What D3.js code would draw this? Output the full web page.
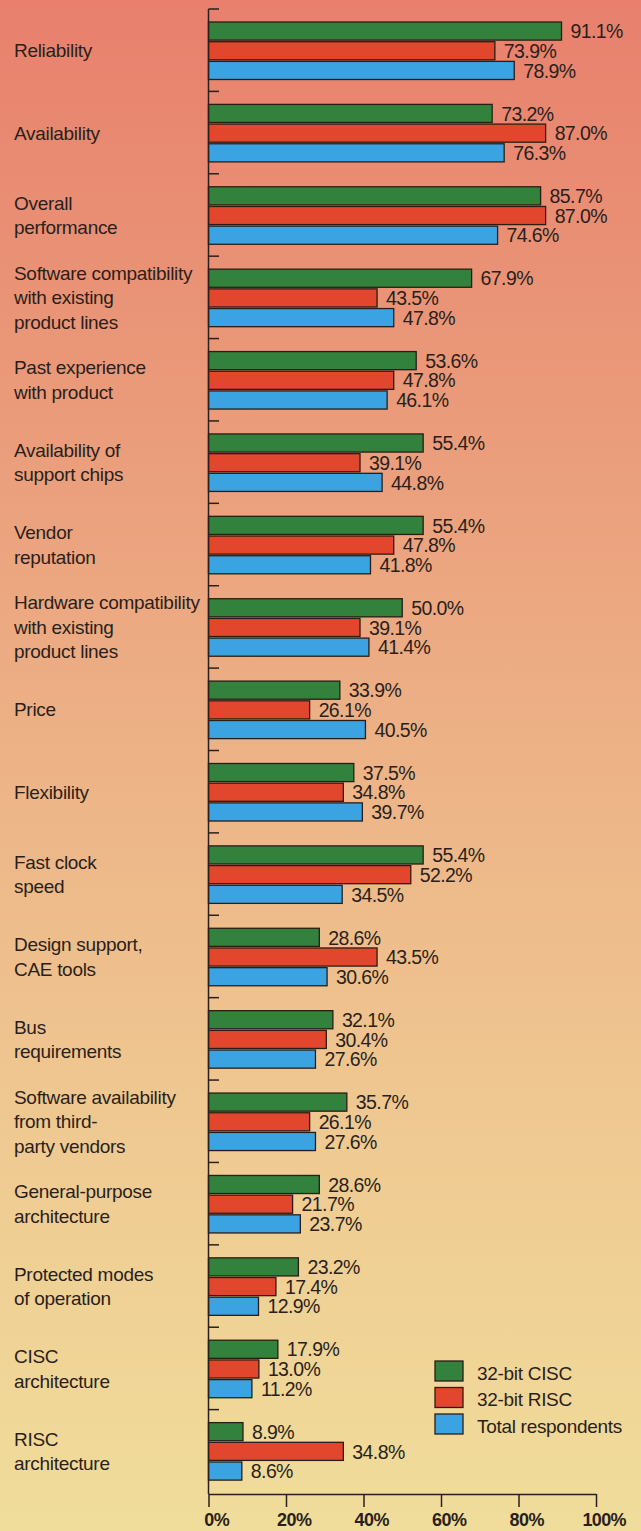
<!DOCTYPE html>
<html>
<head>
<meta charset="utf-8">
<script src="https://cdn.jsdelivr.net/npm/d3@7"></script>
<style>
  html, body { margin: 0; padding: 0; background: #f0dc9a; }
  svg { display: block; }
  text { font-family: "Liberation Sans", Arial, Helvetica, sans-serif; fill: #2a1f1a; }
</style>
</head>
<body>
<svg id="chart" width="641" height="1531"></svg>
<script>
// ---------- data ----------
const categories = [
  "Reliability",
  "Availability",
  "Overall\nperformance",
  "Software compatibility\nwith existing\nproduct lines",
  "Past experience\nwith product",
  "Availability of\nsupport chips",
  "Vendor\nreputation",
  "Hardware compatibility\nwith existing\nproduct lines",
  "Price",
  "Flexibility",
  "Fast clock\nspeed",
  "Design support,\nCAE tools",
  "Bus\nrequirements",
  "Software availability\nfrom third-\nparty vendors",
  "General-purpose\narchitecture",
  "Protected modes\nof operation",
  "CISC\narchitecture",
  "RISC\narchitecture"
];
const seriesNames = ["32-bit CISC", "32-bit RISC", "Total respondents"];
const cisc  = [91.1, 73.2, 85.7, 67.9, 53.6, 55.4, 55.4, 50.0, 33.9, 37.5, 55.4, 28.6, 32.1, 35.7, 28.6, 23.2, 17.9, 8.9];
const risc  = [73.9, 87.0, 87.0, 43.5, 47.8, 39.1, 47.8, 39.1, 26.1, 34.8, 52.2, 43.5, 30.4, 26.1, 21.7, 17.4, 13.0, 34.8];
const total = [78.9, 76.3, 74.6, 47.8, 46.1, 44.8, 41.8, 41.4, 40.5, 39.7, 34.5, 30.6, 27.6, 27.6, 23.7, 12.9, 11.2, 8.6];
const xTicks = [0, 20, 40, 60, 80, 100];

// ---------- layout ----------
const W = 641, H = 1531;
const colors = ["#32813c", "#e2462d", "#3ca3e2"];
const ink = "#2a1f1a";
const seriesVals = [cisc, risc, total];

const svg = d3.select("#chart");

// background gradient
const defs = svg.append("defs");
const grad = defs.append("linearGradient").attr("id", "bg")
  .attr("x1", 0).attr("y1", 0).attr("x2", 0).attr("y2", 1);
[[0, "#e8806d"], [0.25, "#ea9979"], [0.5, "#edb387"], [0.75, "#efca92"], [1, "#f0dd9b"]]
  .forEach(([o, c]) => grad.append("stop").attr("offset", o).attr("stop-color", c));
svg.append("rect").attr("width", W).attr("height", H).attr("fill", "url(#bg)");

const x = d3.scaleLinear().domain([0, 100]).range([208.5, 596]);
const axisY = 1494;
const y = d3.scaleBand().domain(categories).range([9, 1492]).paddingInner(0).paddingOuter(0);
const bw = y.bandwidth();
const yInner = d3.scaleBand().domain(seriesNames).range([13, 70.5]).paddingInner(0.08);

// groups
const data = categories.map((c, i) => ({
  cat: c,
  vals: seriesNames.map((s, j) => ({ series: s, j, v: seriesVals[j][i] }))
}));

const g = svg.append("g");
const groups = g.selectAll("g.grp").data(data).join("g")
  .attr("class", "grp")
  .attr("transform", d => `translate(0,${y(d.cat)})`);

groups.selectAll("rect").data(d => d.vals).join("rect")
  .attr("x", x(0))
  .attr("y", d => yInner(d.series))
  .attr("width", d => x(d.v) - x(0))
  .attr("height", yInner.bandwidth())
  .attr("fill", d => colors[d.j])
  .attr("stroke", "#2b1d16")
  .attr("stroke-width", 1.3);

const fmt = d3.format(".1f");
groups.selectAll("text.val").data(d => d.vals).join("text")
  .attr("class", "val")
  .attr("x", d => x(d.v) + 9)
  .attr("y", d => yInner(d.series) + yInner.bandwidth() / 2 + 7.2)
  .style("font-size", "19.5px")
  .style("letter-spacing", "-0.6px")
  .text(d => fmt(d.v) + "%");

// category labels
const lh = 24.5;
groups.append("text")
  .attr("class", "cat")
  .style("font-size", "19px")
  .style("letter-spacing", "-0.3px")
  .each(function(d) {
    const lines = d.cat.split("\n");
    const n = lines.length;
    const first = bw / 2 - (n - 1) * lh / 2 + 7;
    d3.select(this).selectAll("tspan").data(lines).join("tspan")
      .attr("x", 14)
      .attr("y", (l, k) => first + k * lh)
      .text(l => l);
  });

// left axis (vertical line with ticks at band boundaries)
const left = svg.append("g");
left.append("line")
  .attr("x1", x(0)).attr("x2", x(0))
  .attr("y1", y(categories[0])).attr("y2", axisY)
  .attr("stroke", ink).attr("stroke-width", 1.5);
left.selectAll("line.tk").data(categories).join("line")
  .attr("class", "tk")
  .attr("x1", x(0)).attr("x2", x(0) + 10.5)
  .attr("y1", d => y(d)).attr("y2", d => y(d))
  .attr("stroke", ink).attr("stroke-width", 1.5);

// bottom axis
const xAxis = d3.axisBottom(x).tickValues(xTicks).tickSize(13).tickSizeOuter(0).tickPadding(0)
  .tickFormat(d => d + "%");
const ax = svg.append("g").attr("transform", `translate(0,${axisY})`).call(xAxis);
ax.select(".domain").attr("stroke", ink).attr("stroke-width", 1.5);
ax.selectAll(".tick line").attr("stroke", ink).attr("stroke-width", 1.5);

// measurer for centring the numeric part of each tick label on its tick
const meas = svg.append("text")
  .style("font-size", "18px").style("font-weight", "bold").style("letter-spacing", "-0.6px")
  .attr("opacity", 0);
ax.selectAll(".tick text")
  .attr("fill", ink)
  .attr("y", 32).attr("dy", 0)
  .style("font-family", '"Liberation Sans", Arial, sans-serif')
  .style("font-size", "18px")
  .style("font-weight", "bold")
  .style("letter-spacing", "-0.6px")
  .each(function(d) {
    meas.text(String(d));
    const nw = meas.node().getComputedTextLength();
    const tw = this.getComputedTextLength();
    let dx = -nw / 2;
    if (x(d) + dx + tw > 627) dx = 627 - x(d) - tw;
    d3.select(this).attr("text-anchor", "start").attr("x", dx);
  });
meas.remove();

// legend
const legend = svg.append("g").attr("transform", "translate(435,1361)");
const li = legend.selectAll("g").data(seriesNames).join("g")
  .attr("transform", (d, i) => `translate(0,${i * 26.5})`);
li.append("rect").attr("width", 28).attr("height", 20)
  .attr("fill", (d, i) => colors[i]).attr("stroke", "#2b1d16").attr("stroke-width", 1.3);
li.append("text").attr("x", 42).attr("y", 18.5)
  .style("font-size", "19px").style("letter-spacing", "-0.3px")
  .text(d => d);
</script>
</body>
</html>
